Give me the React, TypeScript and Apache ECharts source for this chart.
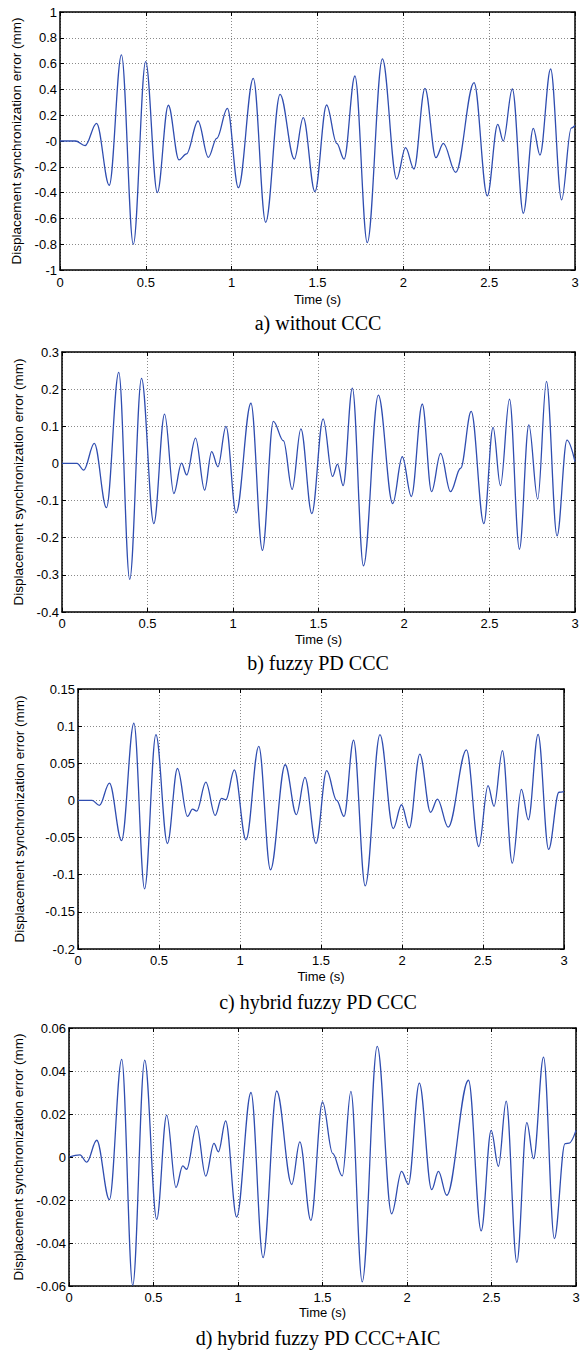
import React, { useEffect, useRef } from "react";
import * as echarts from "echarts";

// Time axis ticks (s)
const timeTicks = [0, 0.5, 1, 1.5, 2, 2.5, 3];

const captions = [
  "a) without CCC",
  "b) fuzzy PD CCC",
  "c) hybrid fuzzy PD CCC",
  "d) hybrid fuzzy PD CCC+AIC",
];

// [time (s), error (mm)] read at the extrema of each curve
const errorWithoutCCC: [number, number][] = [
  [0, 0], [0.09, 0], [0.146, -0.036], [0.213, 0.137], [0.287, -0.343], [0.358, 0.667],
  [0.427, -0.8], [0.499, 0.615], [0.567, -0.4], [0.631, 0.277], [0.693, -0.147],
  [0.737, -0.1], [0.804, 0.155], [0.864, -0.127], [0.913, 0.02], [0.975, 0.253],
  [1.039, -0.362], [1.126, 0.486], [1.198, -0.63], [1.282, 0.362], [1.365, -0.14],
  [1.417, 0.181], [1.485, -0.393], [1.553, 0.279], [1.612, -0.018], [1.655, -0.14],
  [1.718, 0.504], [1.79, -0.788], [1.878, 0.636], [1.961, -0.295], [2.013, -0.052],
  [2.062, -0.217], [2.126, 0.408], [2.19, -0.129], [2.233, -0.018], [2.305, -0.243],
  [2.412, 0.452], [2.489, -0.426], [2.55, 0.129], [2.582, 0.0], [2.635, 0.403],
  [2.699, -0.56], [2.757, 0.098], [2.796, -0.109], [2.858, 0.558], [2.922, -0.457],
  [2.978, 0.1], [3.0, 0.12],
];

const errorFuzzyPD: [number, number][] = [
  [0, 0], [0.088, 0], [0.127, -0.018], [0.189, 0.054], [0.26, -0.119], [0.332, 0.245],
  [0.396, -0.312], [0.465, 0.229], [0.537, -0.162], [0.6, 0.133], [0.654, -0.081],
  [0.699, 0.001], [0.729, -0.031], [0.781, 0.068], [0.834, -0.072], [0.875, 0.032],
  [0.912, -0.009], [0.959, 0.1], [1.018, -0.133], [1.105, 0.162], [1.172, -0.234],
  [1.236, 0.113], [1.295, 0.061], [1.346, -0.07], [1.397, 0.093], [1.461, -0.135],
  [1.527, 0.12], [1.582, -0.035], [1.611, -0.002], [1.644, -0.06], [1.698, 0.203],
  [1.763, -0.276], [1.85, 0.184], [1.934, -0.108], [1.99, 0.018], [2.043, -0.089],
  [2.107, 0.16], [2.161, -0.076], [2.214, 0.027], [2.272, -0.076], [2.331, -0.013],
  [2.393, 0.14], [2.467, -0.162], [2.521, 0.097], [2.564, -0.06], [2.617, 0.173],
  [2.675, -0.231], [2.73, 0.104], [2.782, -0.096], [2.833, 0.221], [2.895, -0.195],
  [2.953, 0.063], [3.0, 0.005],
];

const errorHybridFuzzyPD: [number, number][] = [
  [0, 0], [0.087, 0], [0.132, -0.0067], [0.194, 0.0234], [0.269, -0.054], [0.345, 0.104],
  [0.411, -0.119], [0.481, 0.0885], [0.552, -0.058], [0.614, 0.043], [0.676, -0.0216],
  [0.707, -0.0117], [0.733, -0.0144], [0.789, 0.0247], [0.847, -0.0202], [0.886, 0.0027],
  [0.913, 0.001], [0.965, 0.041], [1.037, -0.053], [1.116, 0.0728], [1.188, -0.0934],
  [1.279, 0.048], [1.348, -0.019], [1.401, 0.031], [1.469, -0.058], [1.535, 0.04],
  [1.597, 0.0], [1.642, -0.0216], [1.701, 0.081], [1.773, -0.115], [1.864, 0.0885],
  [1.946, -0.038], [1.997, -0.0058], [2.045, -0.037], [2.11, 0.0624], [2.176, -0.016],
  [2.219, 0.0018], [2.285, -0.036], [2.398, 0.068], [2.474, -0.062], [2.531, 0.02],
  [2.568, -0.008], [2.62, 0.067], [2.681, -0.0845], [2.737, 0.015], [2.78, -0.026],
  [2.84, 0.089], [2.905, -0.066], [2.969, 0.011], [3.0, 0.012],
];

const errorHybridAIC: [number, number][] = [
  [0, 0], [0.065, 0.001], [0.105, -0.0024], [0.164, 0.0078], [0.239, -0.0198],
  [0.312, 0.0454], [0.377, -0.0597], [0.448, 0.0451], [0.519, -0.029], [0.578, 0.0195],
  [0.633, -0.0142], [0.673, -0.0041], [0.696, -0.0057], [0.755, 0.0145], [0.809, -0.0089],
  [0.858, 0.0063], [0.884, 0.0024], [0.927, 0.0168], [0.992, -0.0279], [1.077, 0.03],
  [1.148, -0.0468], [1.229, 0.0307], [1.318, -0.0128], [1.366, 0.007], [1.431, -0.0295],
  [1.5, 0.0256], [1.56, 0.0017], [1.617, -0.0088], [1.668, 0.0305], [1.735, -0.0581],
  [1.824, 0.0515], [1.909, -0.0264], [1.968, -0.0067], [2.008, -0.0127], [2.073, 0.0344],
  [2.146, -0.0152], [2.186, -0.0067], [2.235, -0.0178], [2.364, 0.0357], [2.439, -0.0344],
  [2.498, 0.0124], [2.541, -0.0043], [2.587, 0.026], [2.65, -0.049], [2.709, 0.016],
  [2.749, -0.0008], [2.808, 0.0465], [2.872, -0.038], [2.935, 0.0062], [2.96, 0.0065],
  [3.0, 0.0124],
];

// y-axis ranges [min, max, step]
const yRanges: [number, number, number][] = [
  [-1, 1, 0.2],
  [-0.4, 0.3, 0.1],
  [-0.2, 0.15, 0.05],
  [-0.06, 0.06, 0.02],
];

const seriesData = [errorWithoutCCC, errorFuzzyPD, errorHybridFuzzyPD, errorHybridAIC];

const SANS = "'Liberation Sans', Arial, Helvetica, sans-serif";
const SERIF = "'Liberation Serif', 'Times New Roman', serif";

const layout = [
  { left: 60, top: 12, width: 515, height: 258, capY: 323, xLabelMargin: 6, xNameGap: 23, yNameGap: 33, negZero: true },
  { left: 62, top: 352, width: 513, height: 260, capY: 663, xLabelMargin: 5, xNameGap: 21, yNameGap: 35, negZero: false },
  { left: 78, top: 689, width: 486, height: 260, capY: 1002, xLabelMargin: 5, xNameGap: 21, yNameGap: 52, negZero: false },
  { left: 69, top: 1028, width: 507, height: 258, capY: 1338, xLabelMargin: 5, xNameGap: 20, yNameGap: 43, negZero: false },
];

function buildOption() {
  const grid: any[] = [];
  const xAxis: any[] = [];
  const yAxis: any[] = [];
  const series: any[] = [];
  const graphic: any[] = [];
  const frame = { show: true, onZero: false, lineStyle: { color: "#000", width: 1.5 } };
  const tick = { show: true, inside: true, length: 4, lineStyle: { color: "#000", width: 1 } };
  const split = { show: true, lineStyle: { color: "#8a8a8a", width: 1, type: [1, 2] } };

  layout.forEach((L, i) => {
    const [ymin, ymax, ystep] = yRanges[i];
    grid.push({ left: L.left, top: L.top, width: L.width, height: L.height, containLabel: false, outerBoundsMode: "none" });
    xAxis.push({
      gridIndex: i, type: "value", position: "bottom",
      min: timeTicks[0], max: timeTicks[timeTicks.length - 1], interval: timeTicks[1] - timeTicks[0],
      name: "Time (s)", nameLocation: "middle", nameGap: L.xNameGap,
      nameTextStyle: { color: "#000", fontSize: 13, fontFamily: SANS },
      axisLine: frame, axisTick: tick, splitLine: split,
      axisLabel: {
        color: "#000", fontSize: 13, fontFamily: SANS, margin: L.xLabelMargin,
        formatter: (v: number) => String(Math.round(v * 10) / 10),
      },
    });
    xAxis.push({
      gridIndex: i, type: "value", position: "top",
      min: timeTicks[0], max: timeTicks[timeTicks.length - 1], interval: timeTicks[1] - timeTicks[0],
      axisLine: frame, axisTick: tick, splitLine: { show: false }, axisLabel: { show: false },
    });
    yAxis.push({
      gridIndex: i, type: "value", position: "left", min: ymin, max: ymax, interval: ystep,
      name: "Displacement synchronization error (mm)", nameLocation: "middle", nameGap: L.yNameGap,
      nameTextStyle: { color: "#000", fontSize: 13.5, fontFamily: SANS },
      axisLine: frame, axisTick: tick, splitLine: split,
      axisLabel: {
        color: "#000", fontSize: 13, fontFamily: SANS, margin: 3,
        formatter: (v: number) => {
          const r = Math.round(v * 1000) / 1000;
          if (r === 0) return L.negZero ? "-0" : "0";
          return String(r);
        },
      },
    });
    yAxis.push({
      gridIndex: i, type: "value", position: "right", min: ymin, max: ymax, interval: ystep,
      axisLine: frame, axisTick: tick, splitLine: { show: false }, axisLabel: { show: false },
    });
    series.push({
      type: "line", xAxisIndex: 2 * i, yAxisIndex: 2 * i, data: seriesData[i],
      symbol: "none", showSymbol: false, smooth: 0.36, smoothMonotone: "x",
      lineStyle: { color: "#2f4db0", width: 1.3 }, silent: true, clip: true,
    });
    graphic.push({
      type: "text", x: 318, y: L.capY,
      style: {
        text: captions[i], fill: "#000", fontSize: 20, fontFamily: SERIF,
        align: "center", verticalAlign: "middle", textAlign: "center", textVerticalAlign: "middle",
      },
    });
  });

  return { animation: false, backgroundColor: "#fff", grid, xAxis, yAxis, series, graphic };
}

export default function App() {
  const ref = useRef<HTMLDivElement>(null);
  useEffect(() => {
    if (!ref.current) return;
    const chart = echarts.init(ref.current, undefined, { renderer: "svg" });
    chart.setOption(buildOption() as any);
    return () => chart.dispose();
  }, []);
  return (
    <div
      ref={ref}
      style={{ position: "absolute", left: 0, top: 0, width: 587, height: 1351, background: "#fff" }}
    />
  );
}
